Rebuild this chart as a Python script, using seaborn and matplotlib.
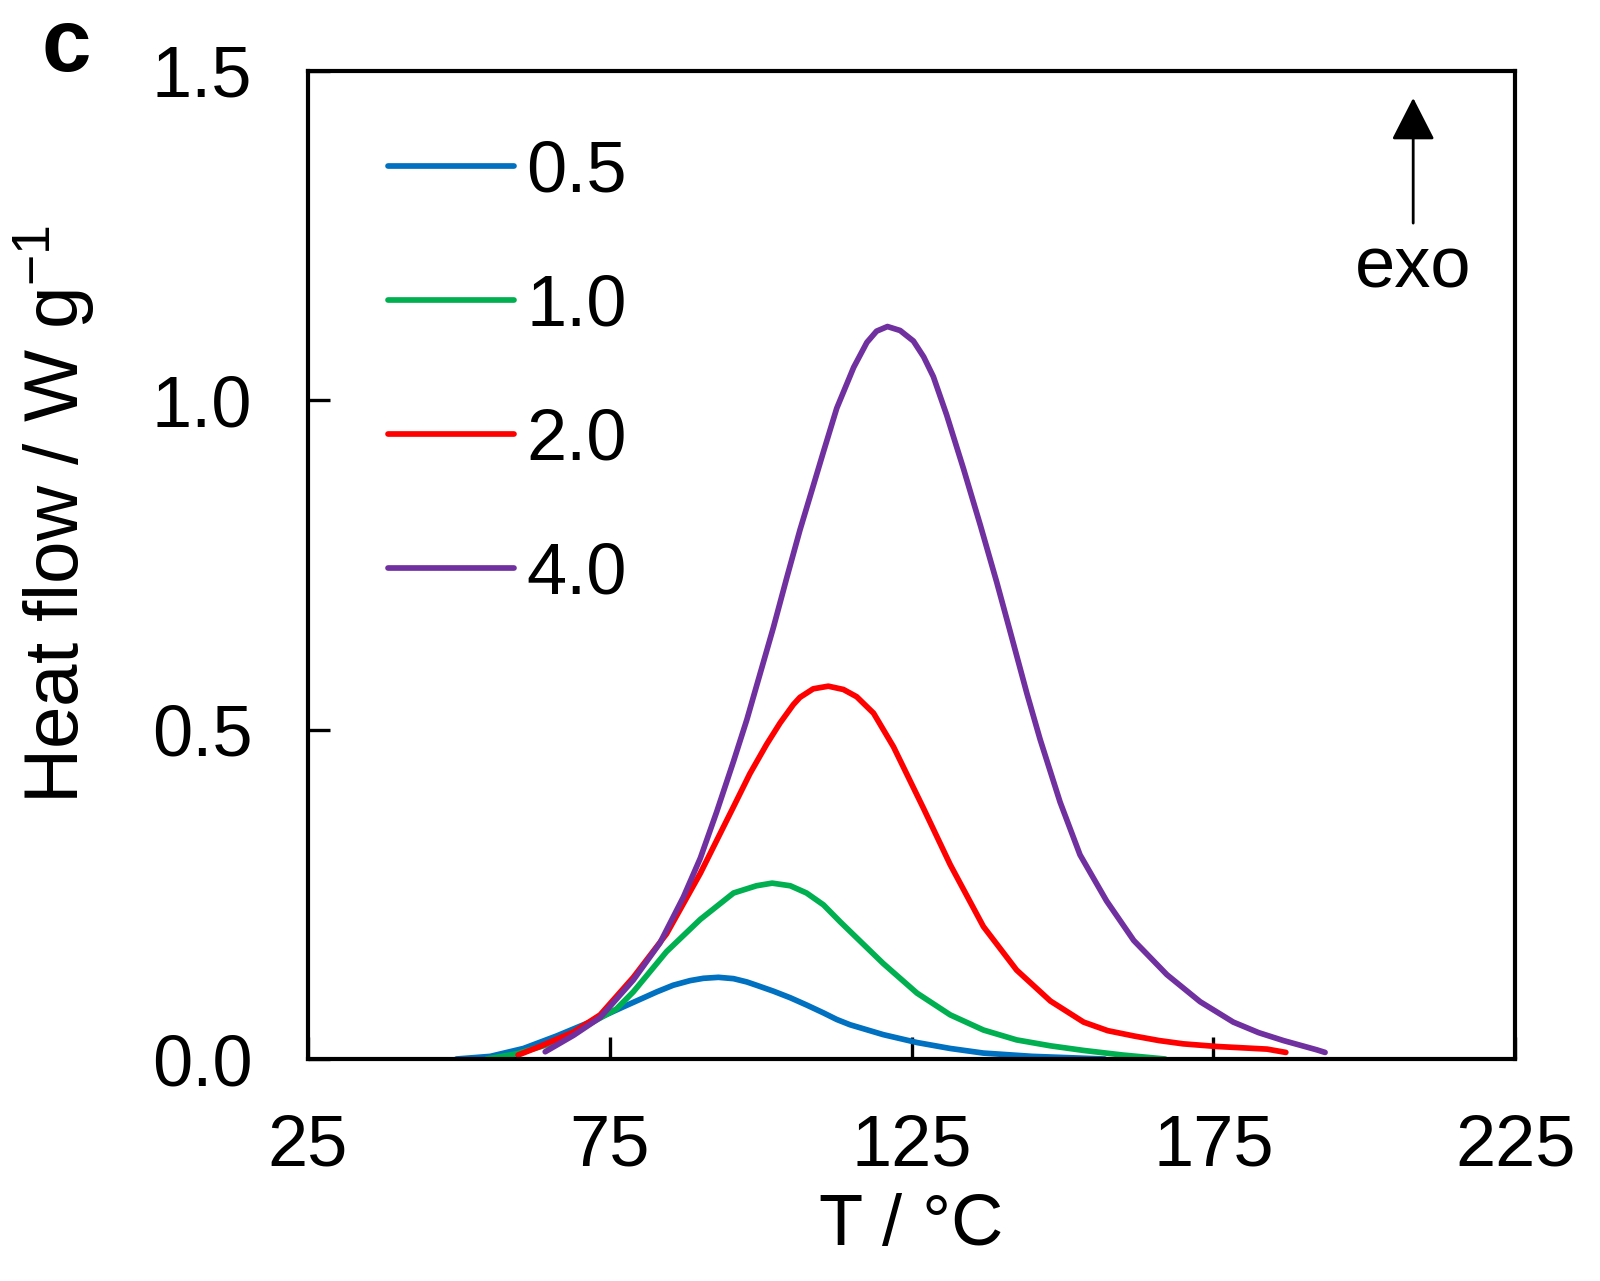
import numpy as np
import pandas as pd
import matplotlib
matplotlib.use("Agg")
import matplotlib.pyplot as plt
import seaborn as sns

# ---------------- data ----------------
rates = ["0.5", "1.0", "2.0", "4.0"]
colors = ["#0070C0", "#00B050", "#FF0000", "#7030A0"]

T_05 = [49.6, 55.2, 60.7, 66.2, 71.7, 77.2, 82.8, 85.5, 88.3, 90.5, 93.0,
        95.5, 97.7, 99.3, 102.1, 104.9, 107.6, 110.4, 112.6, 114.8, 120.3,
        125.9, 131.4, 136.9, 145.0, 157.0]
HF_05 = [0.000, 0.004, 0.016, 0.035, 0.056, 0.079, 0.102, 0.112, 0.119, 0.1225,
         0.124, 0.122, 0.117, 0.112, 0.103, 0.093, 0.082, 0.070, 0.060, 0.052,
         0.037, 0.025, 0.016, 0.009, 0.004, 0.000]

T_10 = [54.6, 59.6, 65.1, 70.6, 76.1, 78.9, 84.4, 90.0, 95.5, 99.3, 101.9,
        104.9, 107.6, 110.4, 113.2, 120.3, 125.9, 131.4, 136.9, 142.4, 148.0,
        153.5, 160.0, 167.0]
HF_10 = [0.000, 0.008, 0.023, 0.048, 0.076, 0.102, 0.163, 0.212, 0.252, 0.263,
         0.267, 0.263, 0.252, 0.234, 0.208, 0.145, 0.100, 0.067, 0.044, 0.029,
         0.020, 0.013, 0.006, 0.000]

T_20 = [59.8, 63.4, 69.0, 73.4, 78.9, 84.4, 90.0, 95.5, 98.2, 101.0, 103.2,
        105.4, 106.5, 108.7, 111.2, 113.7, 115.9, 118.7, 122.0, 127.0, 131.4,
        136.9, 142.4, 148.0, 153.5, 157.5, 161.8, 166.0, 170.0, 175.6, 183.9,
        187.0]
HF_20 = [0.006, 0.019, 0.041, 0.067, 0.124, 0.190, 0.282, 0.383, 0.433, 0.478,
         0.510, 0.538, 0.549, 0.562, 0.566, 0.561, 0.550, 0.525, 0.474, 0.380,
         0.295, 0.201, 0.135, 0.088, 0.056, 0.043, 0.035, 0.028, 0.023, 0.019,
         0.015, 0.010]

T_40 = [64.3, 69.0, 73.4, 78.9, 83.3, 87.2, 90.0, 92.7, 95.5, 97.7, 99.9,
        102.1, 104.3, 106.5, 108.7, 110.4, 112.6, 115.4, 117.6, 119.2, 121.0,
        123.1, 125.3, 127.0, 128.6, 130.8, 133.6, 136.4, 139.1, 141.3, 144.1,
        146.3, 149.6, 152.9, 157.3, 161.8, 167.3, 172.8, 178.3, 182.5, 186.6,
        192.1, 193.5]
HF_40 = [0.011, 0.036, 0.063, 0.120, 0.176, 0.246, 0.305, 0.375, 0.452, 0.515,
         0.585, 0.655, 0.730, 0.803, 0.870, 0.922, 0.988, 1.050, 1.088, 1.105,
         1.112, 1.106, 1.090, 1.066, 1.036, 0.978, 0.896, 0.810, 0.724, 0.650,
         0.555, 0.485, 0.390, 0.310, 0.240, 0.180, 0.128, 0.087, 0.056, 0.040,
         0.028, 0.014, 0.010]

x_ticks = [25, 75, 125, 175, 225]
y_ticks = [0.0, 0.5, 1.0, 1.5]

# ---------------- build long table ----------------
frames = []
for r, T, H in zip(rates, [T_05, T_10, T_20, T_40], [HF_05, HF_10, HF_20, HF_40]):
    frames.append(pd.DataFrame({"T": T, "HF": H, "rate": r}))
df = pd.concat(frames, ignore_index=True)

# ---------------- style ----------------
sns.set_theme(style="white")
plt.rcParams["font.family"] = ["Liberation Sans", "DejaVu Sans"]
plt.rcParams["text.color"] = "black"
plt.rcParams["axes.labelcolor"] = "black"
plt.rcParams["xtick.color"] = "black"
plt.rcParams["ytick.color"] = "black"
plt.rcParams["mathtext.fontset"] = "custom"
plt.rcParams["mathtext.rm"] = "Liberation Sans"
plt.rcParams["mathtext.it"] = "Liberation Sans:italic"
plt.rcParams["mathtext.bf"] = "Liberation Sans:bold"

FS = 52
LW = 4.1

fig = plt.figure(figsize=(16, 12.81), dpi=100)
ax = fig.add_axes([0.1925, 0.1733, 0.947 - 0.1925, 0.9446 - 0.1733])

sns.lineplot(data=df, x="T", y="HF", hue="rate", hue_order=rates,
             palette=dict(zip(rates, colors)), linewidth=LW, ax=ax,
             sort=False, estimator=None)
for ln in ax.get_lines():
    ln.set_solid_joinstyle("round")
    ln.set_solid_capstyle("round")

ax.set_xlim(25, 225)
ax.set_ylim(0, 1.5)
ax.set_xticks(x_ticks)
ax.set_yticks(y_ticks)
ax.set_xticklabels([str(v) for v in x_ticks])
ax.set_yticklabels([f"{v:.1f}" for v in y_ticks])
ax.tick_params(axis="both", which="major", direction="in", length=16,
               width=2.4, labelsize=FS, colors="black",
               bottom=True, left=True, top=False, right=False)
ax.tick_params(axis="x", pad=39)
ax.tick_params(axis="y", pad=40)
for s in ax.spines.values():
    s.set_visible(True)
    s.set_linewidth(3.0)
    s.set_color("black")

ax.set_xlabel("T / °C", fontsize=FS, labelpad=9, color="black")
ax.set_ylabel("")
fig.text(54 / 1600, 1 - 515 / 1281, r"Heat flow / W g$^{-1}$", fontsize=55,
         rotation=90, ha="center", va="center", color="black")

# legend
handles, labels = ax.get_legend_handles_labels()
leg = ax.legend(handles, labels, loc="upper left",
                bbox_to_anchor=(0.066, 0.931), frameon=False, fontsize=FS,
                handlelength=1.75, handletextpad=0.17, labelspacing=0.93,
                borderpad=0, borderaxespad=0, labelcolor="black")
for h in leg.get_lines():
    h.set_linewidth(LW)

# exo arrow
ax.annotate("", xy=(0.9155, 0.9727), xytext=(0.9155, 0.846),
            xycoords="axes fraction", textcoords="axes fraction",
            arrowprops=dict(arrowstyle="-|>,head_length=1.33,head_width=0.68",
                            mutation_scale=20, lw=2.0, color="black",
                            shrinkA=0, shrinkB=0))
ax.text(0.9155, 0.800, "exo", transform=ax.transAxes, fontsize=FS,
        ha="center", va="center", color="black")

# panel label
fig.text(66 / 1600, 1 - 48 / 1281, "c", fontsize=64, fontweight="bold",
         ha="center", va="center", color="black")

fig.savefig("out.png", dpi=100)
